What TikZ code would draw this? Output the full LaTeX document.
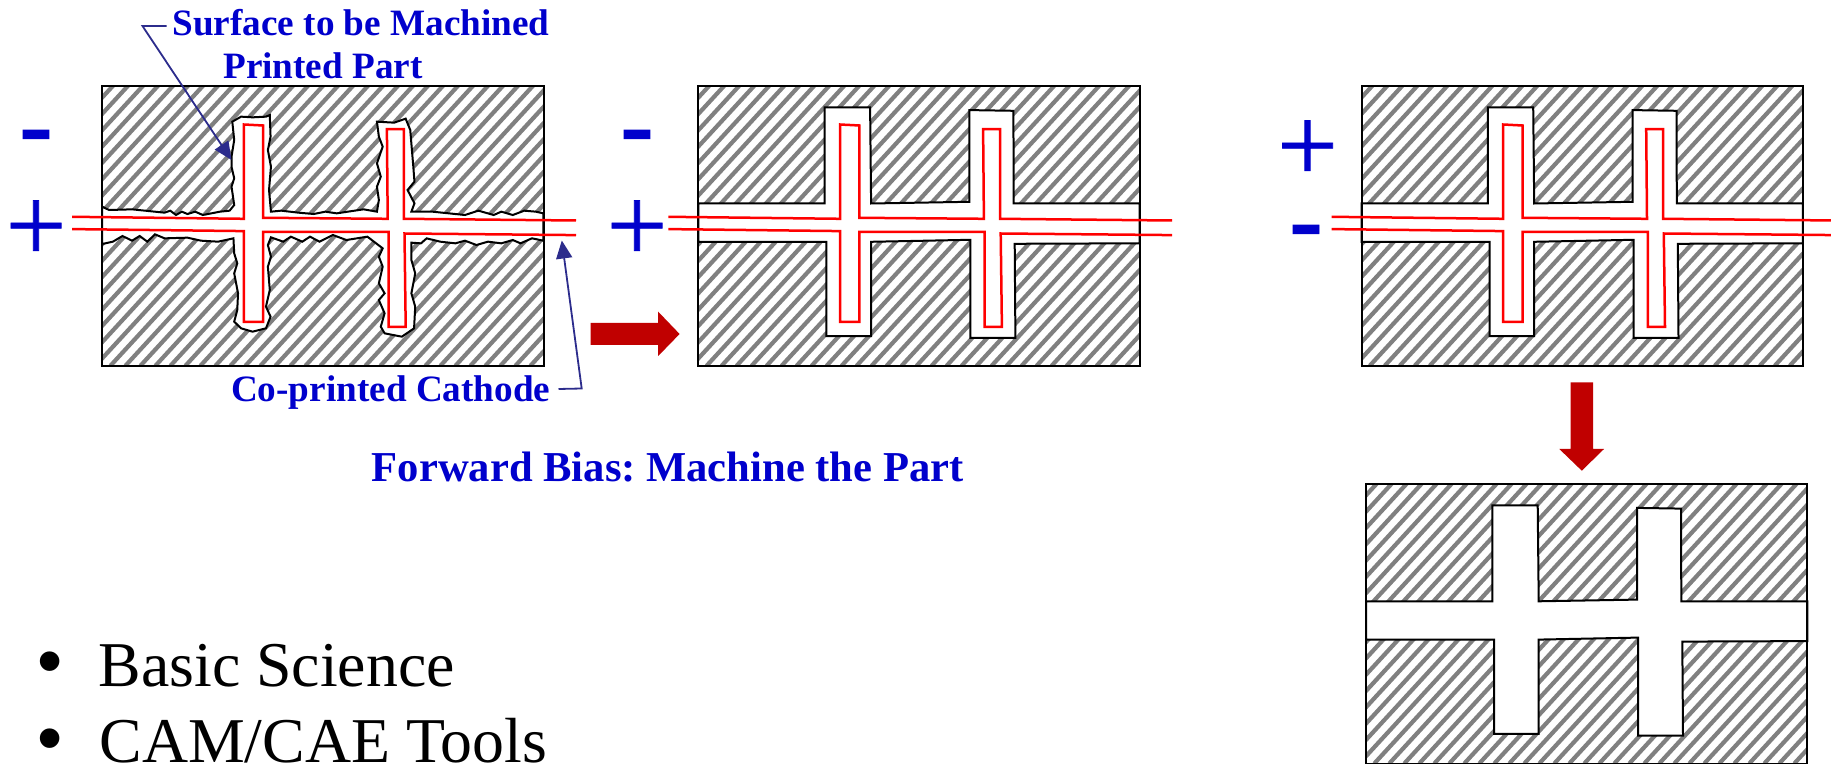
\documentclass[tikz,border=0pt]{standalone}
\usepackage{fontspec}
\setmainfont{Liberation Serif}
\newfontfamily\plusfont[FakeBold=0.7]{Liberation Serif}
\newfontfamily\minusfont[FakeBold=0.8]{Liberation Serif Bold}
\newfontfamily\bulletfont{Liberation Sans}
\usetikzlibrary{arrows.meta}
\frenchspacing
\definecolor{lblue}{RGB}{0,0,204}
\definecolor{cblue}{RGB}{44,44,140}
\definecolor{darkred}{RGB}{192,0,0}
\definecolor{hatchgray}{RGB}{128,128,128}
\definecolor{redline}{RGB}{255,0,0}
\tikzset{
  px/.style={x=0.5pt,y=-0.5pt},
  outline/.style={draw=black,line width=1pt,line join=miter},
  wire/.style={draw=redline,line width=1.25pt,line join=miter},
  stripe/.style={draw=hatchgray,line width=2.1pt},
  label/.style={inner sep=0pt,outer sep=0pt,text=lblue,font=\fontsize{18.6}{22}\selectfont\bfseries,anchor=base},
  body/.style={inner sep=0pt,outer sep=0pt,text=black,font=\fontsize{31.9}{36}\selectfont,anchor=base west},
  bull/.style={inner sep=0pt,outer sep=0pt,text=black,font=\fontsize{36}{36}\bulletfont,anchor=center},
  signp/.style={inner sep=0pt,outer sep=0pt,text=lblue,font=\fontsize{54}{54}\plusfont},
  signm/.style={inner sep=0pt,outer sep=0pt,text=lblue,font=\fontsize{50}{50}\minusfont},
  callout/.style={draw=cblue,line width=0.9pt,-{Triangle[length=9pt,width=8pt,fill=cblue]}},
  block/.style={fill=darkred,draw=none}
}
\newcommand{\hatchbox}[2]{%
  \begin{scope}[shift={(#1,#2)}]
    \begin{scope}
      \clip (0,0) rectangle (441.3,280);
      \foreach \k in {-3,...,46}{\draw[stripe] ({25.8+\k*15},0) -- ({-231.8+\k*15},280);}
    \end{scope}
  \end{scope}}
\newcommand{\cleanslot}[2]{%
  \begin{scope}[shift={(#1,#2)}]
    \path[outline,fill=white] (0,117.7) -- (126.3,117.7) -- (126.3,21.7) -- (171.7,21.7) -- (172.7,117.7) -- (271,116) -- (271,24.3) -- (315,25) -- (315.3,117.7) -- (441.3,117.7)
      -- (441.3,157.5) -- (316.3,158) -- (317,252) -- (272,252) -- (272,154) -- (172.7,156) -- (172.7,250.3) -- (128,250.3) -- (128,156) -- (0,156) -- cycle;
  \end{scope}}
\newcommand{\frameonly}[2]{\draw[outline,shift={(#1,#2)}] (0,0) rectangle (441.3,280);}
\newcommand{\wires}[2]{%
  \begin{scope}[shift={(#1,#2)}]
    \draw[wire] (-30,131) -- (141.6,133) -- (141.6,38.7) -- (161,39.7) -- (161,132) -- (285.5,133) -- (284.7,43.3) -- (301.6,43.3) -- (301.6,133) -- (473.8,134.7);
    \draw[wire] (-30,143.3) -- (141.6,145.3) -- (141.6,236) -- (161,236) -- (161,146) -- (286.3,146) -- (286.3,241) -- (303.5,241) -- (302.3,147.7) -- (473.8,149.3);
  \end{scope}}
\begin{document}
\begin{tikzpicture}[px]
\useasboundingbox (0,0) rectangle (1831,764);
% panel 1
\hatchbox{102.2}{85.8}
\begin{scope}[x=0.19135pt,y=-0.16667pt]
\path[outline,fill=white] (267,620)--(285,630)--(345,628)--(430,638)--(445,632)--(460,645)--(475,635)--(490,642)--(510,635)--(530,645)--(575,635)--(600,632)--(612,615)--(605,560)--(612,535)--(605,500)--(605,470)--(612,420)--(607,365)--(630,350)--(660,352)--(695,350)--(705,345)--(707,410)--(700,450)--(708,500)--(703,570)--(708,635)--(735,632)--(780,638)--(820,642)--(850,635)--(880,640)--(950,628)--(985,635)--(990,600)--(985,560)--(995,530)--(985,490)--(1000,440)--(990,410)--(985,365)--(1030,368)--(1060,356)--(1072,390)--(1080,500)--(1083,545)--(1065,570)--(1083,610)--(1075,635)--(1130,635)--(1215,645)--(1250,632)--(1290,645)--(1310,635)--(1340,645)--(1370,632)--(1400,635)--(1420,640)
--(1420,722)--(1390,715)--(1360,730)--(1340,720)--(1310,730)--(1275,725)--(1245,735)--(1215,722)--(1190,730)--(1150,725)--(1115,715)--(1100,730)--(1075,728)--(1075,780)--(1085,820)--(1075,880)--(1085,920)--(1082,985)--(1050,1010)--(1005,1000)--(995,980)--(1005,940)--(990,900)--(1005,880)--(990,850)--(1000,800)--(990,770)--(1000,745)--(960,710)--(905,720)--(870,705)--(835,725)--(810,710)--(790,725)--(760,710)--(740,725)--(708,712)--(700,735)--(708,770)--(700,800)--(705,870)--(695,920)--(707,950)--(695,985)--(660,995)--(630,985)--(612,965)--(620,930)--(622,880)--(612,820)--(620,790)--(612,760)--(610,715)--(570,725)--(525,722)--(490,713)--(430,715)--(405,703)--(385,725)--(365,708)--(345,722)--(320,708)--(295,725)--(267,732)--cycle;
\end{scope}
\frameonly{102.2}{85.8}
\wires{102.2}{85.8}
% panel 2
\hatchbox{698.4}{85.8}
\cleanslot{698.4}{85.8}
\frameonly{698.4}{85.8}
\wires{698.4}{85.8}
% panel 3
\hatchbox{1361.5}{85.8}
\cleanslot{1361.5}{85.8}
\frameonly{1361.5}{85.8}
\wires{1361.5}{85.8}
% panel 4
\hatchbox{1366}{483.6}
\cleanslot{1366}{483.6}
\frameonly{1366}{483.6}
% block arrows
\path[block] (590.5,323) -- (658.2,323) -- (658.2,311.7) -- (679.6,334) -- (658.2,356) -- (658.2,345) -- (590.5,345) -- cycle;
\path[block] (1570.7,382.3) -- (1593,382.3) -- (1593,449) -- (1604,449) -- (1581.8,470.7) -- (1559.3,449) -- (1570.7,449) -- cycle;
% labels
\node[label] (surface) at (361,36) {Surface to be Machined};
\node[label] (printed) at (323,79) {Printed Part};
\node[label] (coprint) at (390.7,402) {Co-printed Cathode};
\node[label,font=\fontsize{21.3}{25}\selectfont\bfseries] (forward) at (667.7,481) {Forward Bias: Machine the Part};
\node[body] (basic) at (98.7,686) {Basic Science};
\node[body] (camcae) at (99.5,762.7) {CAM/CAE Tools};
\node[bull] (b1) at (50,669) {•};
\node[bull] (b2) at (50,746) {•};
% signs
\node[signm] (m1) at (36,144) {-};
\node[signp] (p1) at (36,231) {+};
\node[signm] (m2) at (637,144) {-};
\node[signp] (p2) at (637,231) {+};
\node[signp] (p3) at (1307.5,151) {+};
\node[signm] (m3) at (1306,239) {-};
% callouts
\coordinate (c1) at (166.5,26);
\coordinate (c1b) at (142.5,26);
\coordinate (c1t) at (231.5,160);
\coordinate (c2) at (558.5,389);
\coordinate (c2b) at (581.7,388.5);
\coordinate (c2t) at (561.8,240.5);
\draw[callout] (c1) -- (c1b) -- (c1t);
\draw[callout] (c2) -- (c2b) -- (c2t);
\end{tikzpicture}
\end{document}
